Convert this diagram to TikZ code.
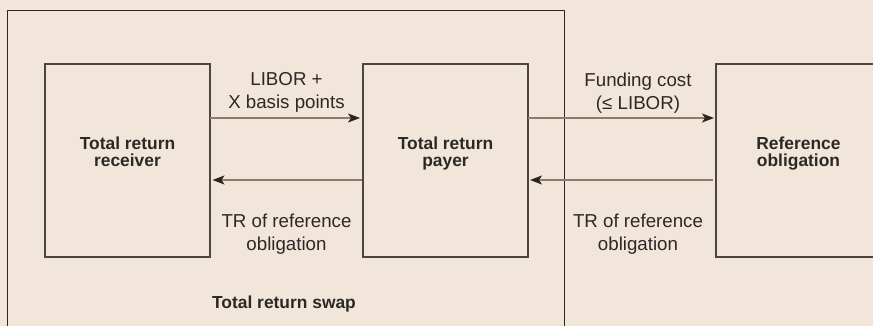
\documentclass[tikz,border=0pt]{standalone}
\usepackage[dvipsnames]{xcolor}
\usepackage{tikz}
\usetikzlibrary{arrows.meta}
\usepackage{fontspec}
\setmainfont{Liberation Sans}

\definecolor{fond}{HTML}{F2E6DA}
\definecolor{trait}{HTML}{4A4540}
\definecolor{cadre}{HTML}{2A2624}
\definecolor{fleche}{HTML}{8A7E6B}
\definecolor{pointe}{HTML}{2B2418}
\definecolor{texte}{HTML}{2C2824}

\tikzset{
    boite/.style={draw=trait, line width=1.3pt, minimum width=165pt, minimum height=193pt, inner sep=0pt, outer sep=0pt},
    titre/.style={text=texte, align=center, inner sep=0pt, font=\bfseries\fontsize{17.4}{17.4}\selectfont},
    legende/.style={text=texte, align=center, inner sep=0pt, font=\fontsize{18.7}{23}\selectfont},
    flux/.style={draw=fleche, line width=1.5pt, -{Stealth[length=12pt,width=9pt,inset=3pt,color=pointe]}}
}

\begin{document}
\begin{tikzpicture}[x=1pt,y=-1pt]
            \useasboundingbox (0,0) rectangle (873,326);
            \fill[fond] (0,0) rectangle (873,326);
            \clip (0,0) rectangle (873,326);
            % Le swap
            \draw[cadre, line width=1.3pt] (7.3,340) -- (7.3,10.3) -- (564.3,10.3) -- (564.3,340);
            \node[titre, anchor=base] (swap) at (284,308.3) {Total return swap};
            % Les trois boites
            \node[boite] (recv) at (127.5,160.5) {};
            \node[boite] (payer) at (445.5,160.5) {};
            \node[boite] (ref) at (798.5,160.5) {};
            \node[titre] (recvtxt) at ([yshift=8.7pt]recv.center) {Total return\\receiver};
            \node[titre] (payertxt) at ([yshift=6.9pt]payer.center) {Total return\\payer};
            \node[titre] (reftxt) at ([yshift=6.9pt]ref.center) {Reference\\obligation};
            % Les flux
            \draw[flux, shorten >=3pt] ([yshift=42.5pt]recv.east) -- ([yshift=42.5pt]payer.west);
            \draw[flux, shorten <=1.5pt, shorten >=2.5pt] ([yshift=-19.5pt]payer.west) -- ([yshift=-19.5pt]recv.east);
            \draw[flux, shorten >=2pt] ([yshift=42.5pt]payer.east) -- ([yshift=42.5pt]ref.west);
            \draw[flux, shorten <=3pt, shorten >=2pt] ([yshift=-19.5pt]ref.west) -- ([yshift=-19.5pt]payer.east);
            % Les legendes
            \node[legende] (libor) at (286.5,92.8) {LIBOR +\\X basis points};
            \node[legende] (trgauche) at (286.5,233.7) {TR of reference\\obligation};
            \node[legende] (funding) at (638,92.7) {Funding cost\\(≤ LIBOR)};
            \node[legende] (trdroite) at (638,233.7) {TR of reference\\obligation};
        \end{tikzpicture}
\end{document}
